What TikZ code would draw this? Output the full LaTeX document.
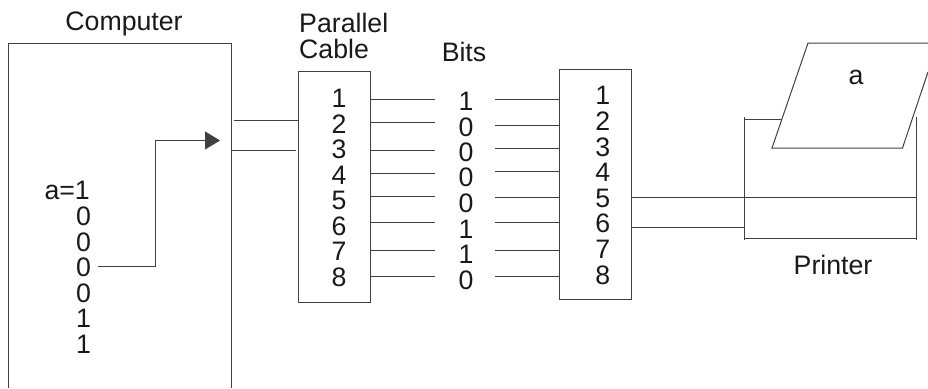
\documentclass[tikz,border=0pt]{standalone}
\usepackage{fontspec}
\setmainfont{Liberation Sans}
\usetikzlibrary{arrows.meta}
\tikzset{
  lab/.style={font=\fontsize{26.7}{26.7}\selectfont, text=black!90, inner sep=0pt},
  wire/.style={color=black!75, line width=1pt},
  box/.style={draw=black!75, line width=1pt, inner sep=0pt, fill=none}
}
\begin{document}
\begin{tikzpicture}[x=1pt,y=-1pt]
        \useasboundingbox (0,0) rectangle (928,388);

        % computer
        \draw[wire] (8.5,388) -- (8.5,43) -- (231.5,43) -- (231.5,388);
        \node[lab,anchor=base] (computer) at (124,30) {Computer};
        \node[lab,anchor=base east] (aone) at (90,199) {a=1};
        \foreach \i/\y/\v in {2/216/0,3/242/0,4/267/0,5/293/0,6/318/1,7/344/1} {
          \node[lab] (word\i) at (83.5,\y) {\v};
        }

        % arrow inside computer
        \coordinate (wordout) at (98,266);
        \coordinate (wordbend) at (155,140.5);
        \coordinate (wordtip) at (220,140.5);
        \draw[wire,-{Triangle[length=15pt,width=18pt]}] (wordout) -| (wordbend) -- (wordtip);

        % left cable box
        \node[box,minimum width=71.5,minimum height=230.5] (cable) at (334.25,186.75) {};
        \node[lab,anchor=base west] (parallel) at (299,32.5) {Parallel};
        \node[lab,anchor=base west] (cabletext) at (299,58) {Cable};
        \foreach \i/\y in {1/98,2/124,3/149,4/175,5/200,6/226,7/251,8/277} {
          \node[lab] (pina\i) at (339,\y) {\i};
        }

        % computer to cable
        \coordinate (outa) at (234,120);
        \coordinate (outb) at (232,150.5);
        \draw[wire] (outa) -- (cable.west |- outa);
        \draw[wire] (outb) -- (296,150.5);

        % bits
        \node[lab,anchor=base] (bits) at (464,61) {Bits};
        \foreach \i/\y/\v in {1/101/1,2/127/0,3/152/0,4/177/0,5/203/0,6/229/1,7/254/1,8/280/0} {
          \node[lab] (bit\i) at (466,\y) {\v};
        }

        % right cable box
        \node[box,minimum width=72,minimum height=230] (port) at (595.5,184) {};
        \foreach \i/\y in {1/95.5,2/121,3/147,4/172.5,5/198,6/223,7/249,8/275} {
          \node[lab] (pinb\i) at (602.7,\y) {\i};
        }

        % wires either side of the bits
        \foreach \i/\y in {1/99.5,2/122.5,3/150.5,4/173.5,5/196.5,6/222,7/250.5,8/276} {
          \coordinate (enda\i) at (435,\y);
          \draw[wire] (cable.east |- enda\i) -- (enda\i);
        }
        \foreach \i/\y in {1/99.5,2/125,3/148,4/171,5/197,6/222,7/250.5,8/276} {
          \coordinate (endb\i) at (495,\y);
          \draw[wire] (endb\i) -- (port.west |- endb\i);
        }

        % printer
        \coordinate (prtl) at (744,117);
        \coordinate (prtr) at (916,117);
        \coordinate (prbl) at (744,239.5);
        \coordinate (prbr) at (916,239.5);
        \draw[wire] (prtl) -- (prbl);
        \draw[wire] (prtr) -- (prbr);
        \draw[wire] (744,238) -- (916,238);
        \draw[wire] (744,119.5) -- (782,119.5);
        \draw[wire] (port.east |- 0,197) -- (916,197);
        \draw[wire] (port.east |- 0,227.5) -- (744,227.5);
        \node[lab,anchor=base] (printer) at (833,274) {Printer};

        % paper
        \draw[wire] (928,43) -- (808,43) -- (772,148) -- (902.5,148) -- (928,72);
        \node[lab,anchor=base] (paper) at (856,84) {a};
\end{tikzpicture}
\end{document}
